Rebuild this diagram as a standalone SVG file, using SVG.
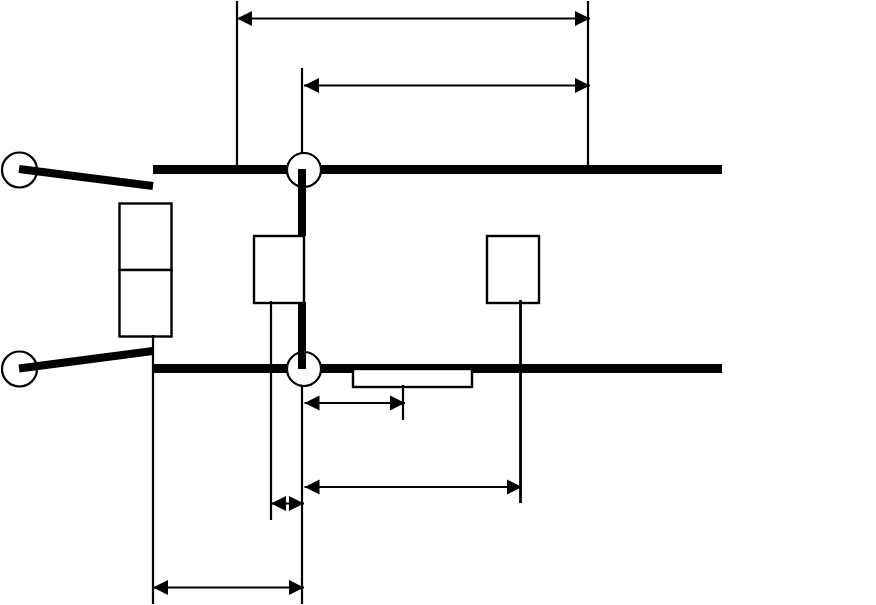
<svg xmlns="http://www.w3.org/2000/svg" width="876" height="605" viewBox="0 0 876 605">
<style>
.bar{stroke:#000;stroke-width:9;fill:none}
.arm{stroke:#000;stroke-width:8;fill:none}
.ln{stroke:#000;stroke-width:2.200;fill:none}
.box{stroke:#000;stroke-width:2.400;fill:#fff}
.ring{stroke:#000;stroke-width:2.200;fill:#fff}
.dim{stroke:#000;stroke-width:2.200;fill:none;marker-start:url(#s);marker-end:url(#e)}
</style>
<defs>
<marker id="e" markerUnits="userSpaceOnUse" markerWidth="15" markerHeight="18" refX="15" refY="9" orient="auto"><path d="M0 1.500L15 9L0 16.500Z" fill="#000"/></marker>
<marker id="s" markerUnits="userSpaceOnUse" markerWidth="15" markerHeight="18" refX="0" refY="9" orient="auto"><path d="M15 1.500L0 9L15 16.500Z" fill="#000"/></marker>
</defs>
<rect width="876" height="605" fill="#fff"/>
<g id="rails">
<line class="bar" x1="153" y1="169.500" x2="722" y2="169.500"/>
<line class="bar" x1="153" y1="368.500" x2="722" y2="368.500"/>
</g>
<g id="node-circle-top-left"><circle class="ring" cx="19.500" cy="170" r="17.500"/></g>
<g id="node-circle-bottom-left"><circle class="ring" cx="19.500" cy="369" r="17.500"/></g>
<g id="node-circle-top-mid"><circle class="ring" cx="304" cy="170" r="17"/></g>
<g id="node-circle-bottom-mid"><circle class="ring" cx="304" cy="369" r="17"/></g>
<g id="connectors">
<line class="arm" x1="19" y1="169" x2="153" y2="186"/>
<line class="arm" x1="19" y1="368.500" x2="153" y2="351"/>
<line class="arm" x1="302" y1="169" x2="302" y2="236"/>
<line class="arm" x1="302" y1="302" x2="302" y2="369"/>
</g>
<g id="node-box-left-upper"><rect class="box" x="119.500" y="203.500" width="52" height="66.500"/></g>
<g id="node-box-left-lower"><rect class="box" x="119.500" y="270" width="52" height="66.500"/></g>
<g id="node-box-mid"><rect class="box" x="254" y="236" width="50" height="67"/></g>
<g id="node-box-right"><rect class="box" x="487" y="236" width="52" height="67"/></g>
<g id="node-box-rail"><rect class="box" x="353" y="369" width="119" height="18"/></g>
<g id="dimensions">
<line class="ln" x1="237" y1="1" x2="237" y2="165"/>
<line class="ln" x1="588" y1="1" x2="588" y2="165"/>
<line class="ln" x1="302" y1="68" x2="302" y2="153"/>
<line class="ln" x1="153" y1="335" x2="153" y2="604"/>
<line class="ln" x1="271" y1="301" x2="271" y2="520"/>
<line class="ln" x1="302" y1="385" x2="302" y2="604"/>
<line class="ln" x1="403" y1="385" x2="403" y2="420"/>
<line class="ln" x1="520.500" y1="300" x2="520.500" y2="503" style="stroke-width:2.800"/>
<line class="dim" x1="237" y1="18.500" x2="590" y2="18.500"/>
<line class="dim" x1="304" y1="85.500" x2="590" y2="85.500"/>
<line class="dim" x1="304.500" y1="403" x2="405" y2="403"/>
<line class="dim" x1="304.500" y1="487" x2="522" y2="487"/>
<line class="dim" x1="271" y1="503.500" x2="304" y2="503.500"/>
<line class="dim" x1="153" y1="587.500" x2="304" y2="587.500"/>
</g>
</svg>
